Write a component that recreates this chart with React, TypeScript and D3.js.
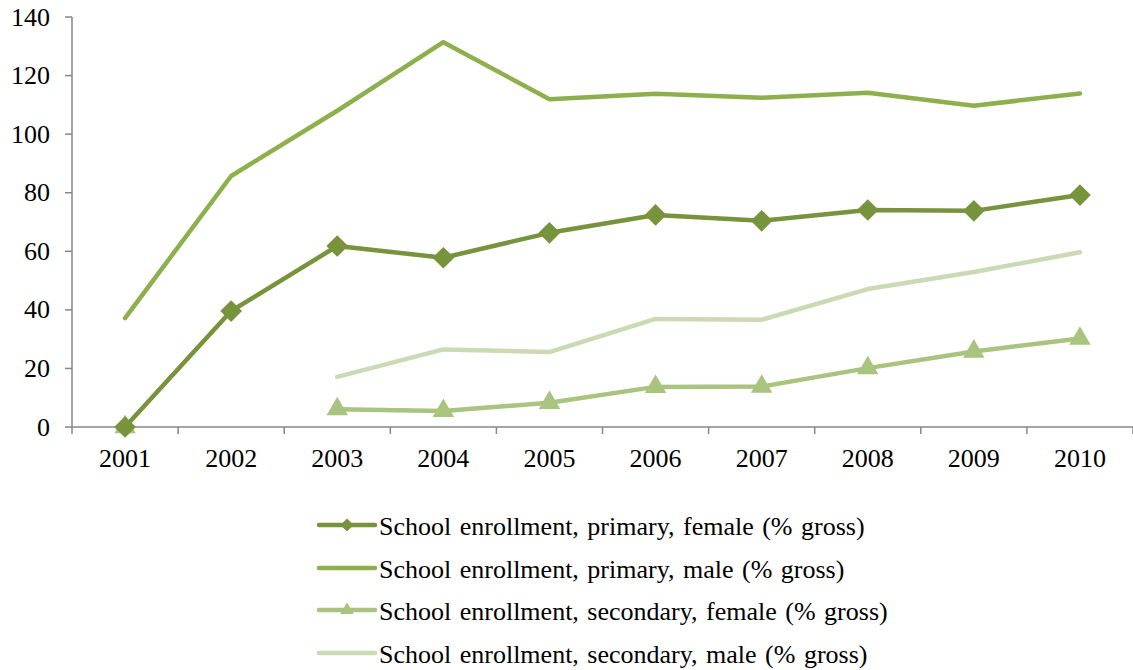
import React from "react";
import * as d3 from "d3";

const years = ["2001", "2002", "2003", "2004", "2005", "2006", "2007", "2008", "2009", "2010"];
const yTicks = [0, 20, 40, 60, 80, 100, 120, 140];

const primaryFemale: (number | null)[] = [0, 39.6, 61.8, 57.8, 66.3, 72.4, 70.4, 74.1, 73.8, 79.2];
const primaryMale: (number | null)[] = [37.2, 85.7, 108.0, 131.4, 111.9, 113.8, 112.4, 114.1, 109.7, 113.9];
const secondaryFemale: (number | null)[] = [0, null, 6.1, 5.5, 8.3, 13.7, 13.8, 20.1, 25.8, 30.2];
const secondaryMale: (number | null)[] = [null, null, 17.1, 26.5, 25.6, 36.9, 36.6, 47.1, 52.9, 59.7];

type Marker = "diamond" | "triangle" | "none";
interface Series {
  name: string;
  values: (number | null)[];
  color: string;
  marker: Marker;
}

const series: Series[] = [
  { name: "School enrollment, primary, female (% gross)", values: primaryFemale, color: "#77933C", marker: "diamond" },
  { name: "School enrollment, primary, male (% gross)", values: primaryMale, color: "#8DB04C", marker: "none" },
  { name: "School enrollment, secondary, female (% gross)", values: secondaryFemale, color: "#A8C47E", marker: "triangle" },
  { name: "School enrollment, secondary, male (% gross)", values: secondaryMale, color: "#C9DAB4", marker: "none" },
];

// draw order: background lines first so the marker series sit on top
const drawOrder = [3, 1, 2, 0];

const W = 1133;
const H = 670;
const left = 72;
const right = 1133;
const top = 17;
const bottom = 427;
const axisColor = "#868686";
const textStyle = {
  fontFamily: '"Liberation Serif", Tinos, "Times New Roman", "DejaVu Serif", serif',
  fontSize: 26,
  fill: "#000",
};

function markerPath(m: Marker, size: number): string | null {
  if (m === "diamond") return d3.symbol(d3.symbolDiamond2, size)() as string;
  if (m === "triangle") return d3.symbol(d3.symbolTriangle2, size)() as string;
  return null;
}

export default function App() {
  const x = d3.scaleBand<string>().domain(years).range([left, right]).padding(0);
  const y = d3.scaleLinear().domain([0, 140]).range([bottom, top]);
  const cx = (yr: string) => (x(yr) as number) + x.bandwidth() / 2;

  const line = d3
    .line<number | null>()
    .defined((v) => v !== null)
    .x((_, i) => cx(years[i]))
    .y((v) => y(v as number));

  const legendX0 = 319;
  const legendX1 = 375;
  const legendRows = [525, 568, 610, 653];

  return (
    <svg width={W} height={H} style={{ position: "absolute", left: 0, top: 0, background: "#fff" }}>
      {/* value axis */}
      <line x1={left} x2={left} y1={top} y2={bottom} stroke={axisColor} strokeWidth={1.5} />
      {yTicks.map((t) => (
        <g key={t}>
          <line x1={left - 7} x2={left} y1={y(t)} y2={y(t)} stroke={axisColor} strokeWidth={1.5} />
          <text x={50} y={y(t) + 8.5} textAnchor="end" style={textStyle}>
            {t}
          </text>
        </g>
      ))}
      {/* category axis */}
      <line x1={left} x2={right} y1={bottom} y2={bottom} stroke={axisColor} strokeWidth={1.5} />
      {years.map((yr, i) => (
        <g key={yr}>
          <line
            x1={(x(yr) as number) + x.bandwidth()}
            x2={(x(yr) as number) + x.bandwidth()}
            y1={bottom}
            y2={bottom + 7}
            stroke={axisColor}
            strokeWidth={1.5}
          />
          {i === 0 && <line x1={left} x2={left} y1={bottom} y2={bottom + 7} stroke={axisColor} strokeWidth={1.5} />}
          <text x={cx(yr)} y={467} textAnchor="middle" style={textStyle}>
            {yr}
          </text>
        </g>
      ))}

      {/* series */}
      {drawOrder.map((si) => {
        const s = series[si];
        const mp = markerPath(s.marker, s.marker === "triangle" ? 330 : 300);
        return (
          <g key={s.name}>
            <path d={line(s.values) ?? ""} fill="none" stroke={s.color} strokeWidth={4.5} strokeLinejoin="round" strokeLinecap="round" />
            {mp &&
              s.values.map((v, i) =>
                v === null ? null : (
                  <path key={i} d={mp} transform={`translate(${cx(years[i])},${y(v)})`} fill={s.color} />
                )
              )}
          </g>
        );
      })}

      {/* legend */}
      {series.map((s, i) => {
        const ly = legendRows[i];
        const mp = markerPath(s.marker, s.marker === "triangle" ? 130 : 110);
        return (
          <g key={s.name}>
            <line x1={legendX0} x2={legendX1} y1={ly} y2={ly} stroke={s.color} strokeWidth={4.5} strokeLinecap="round" />
            {mp && <path d={mp} transform={`translate(${(legendX0 + legendX1) / 2},${ly})`} fill={s.color} />}
            <text x={379} y={ly + 9.5} style={{ ...textStyle, wordSpacing: 2 }}>
              {s.name}
            </text>
          </g>
        );
      })}
    </svg>
  );
}
